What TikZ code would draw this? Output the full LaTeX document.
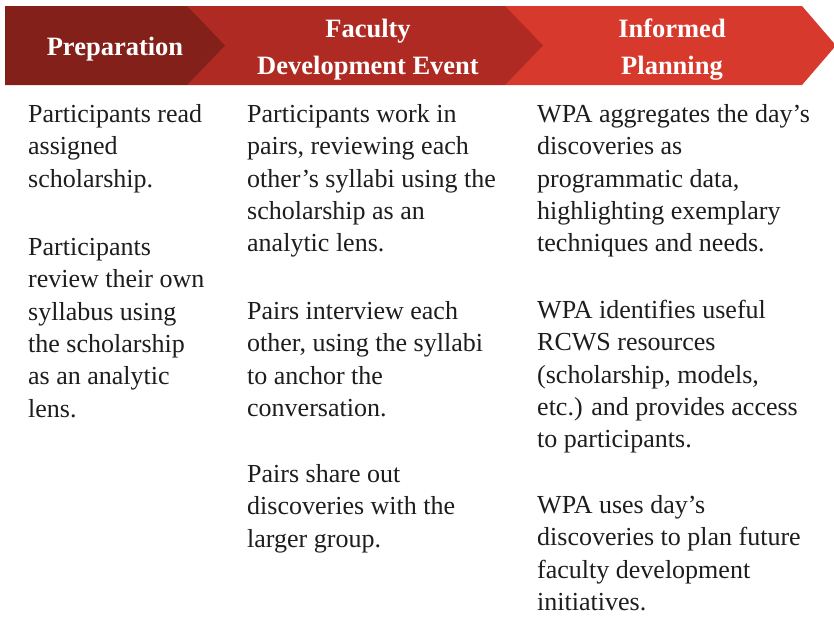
\documentclass[tikz,border=0pt]{standalone}
\usepackage{fontspec}
\setmainfont{Liberation Serif}
\definecolor{redA}{RGB}{131,32,26}
\definecolor{redB}{RGB}{175,42,34}
\definecolor{redC}{RGB}{215,57,44}
\definecolor{textcol}{RGB}{30,28,28}
\begin{document}
\begin{tikzpicture}[x=1pt,y=-1pt,
  para/.style={anchor=north west, inner sep=0pt, align=left, text=textcol,
    font=\fontsize{26}{32.4}\selectfont},
  head/.style={anchor=north, inner sep=0pt, align=center, text=white,
    font=\fontsize{26.5}{37}\selectfont\bfseries}]
\useasboundingbox (0,0) rectangle (834,616);
\clip (0,0) rectangle (834,616);
% chevrons, right to left so earlier ones overlap
\fill[redC] (505,6) -- (802,6) -- (836,45.5) -- (802,85) -- (505,85) -- cycle;
\fill[redB] (187,6) -- (505,6) -- (543,45.5) -- (505,85) -- (187,85) -- cycle;
\fill[redA] (5,6) -- (187,6) -- (225,45.5) -- (187,85) -- (5,85) -- cycle;
% headers (first baseline = y + 20)
\node[head] (h1) at (115,35) {\rule{0pt}{20pt}Preparation};
\node[head] (h2) at (368,17) {\rule{0pt}{20pt}Faculty\\Development Event};
\node[head] (h3) at (672,17) {\rule{0pt}{20pt}Informed\\Planning};
% column 1
\node[para] (c1a) at (28,102) {\rule{0pt}{20pt}Participants read\\assigned\\scholarship.};
\node[para] (c1b) at (28,235) {\rule{0pt}{20pt}Participants\\review their own\\syllabus using\\the scholarship\\as an analytic\\lens.};
% column 2
\node[para] (c2a) at (247,102) {\rule{0pt}{20pt}Participants work in\\pairs, reviewing each\\other’s syllabi using the\\scholarship as an\\analytic lens.};
\node[para] (c2b) at (247,299) {\rule{0pt}{20pt}Pairs interview each\\other, using the syllabi\\to anchor the\\conversation.};
\node[para] (c2c) at (247,462) {\rule{0pt}{20pt}Pairs share out\\discoveries with the\\larger group.};
% column 3
\node[para] (c3a) at (537,102) {\rule{0pt}{20pt}WPA aggregates the day’s\\discoveries as\\programmatic data,\\highlighting exemplary\\techniques and needs.};
\node[para] (c3b) at (537,298) {\rule{0pt}{20pt}WPA identifies useful\\RCWS resources\\(scholarship, models,\\etc.) and provides access\\to participants.};
\node[para] (c3c) at (537,493) {\rule{0pt}{20pt}WPA uses day’s\\discoveries to plan future\\faculty development\\initiatives.};
\end{tikzpicture}
\end{document}
